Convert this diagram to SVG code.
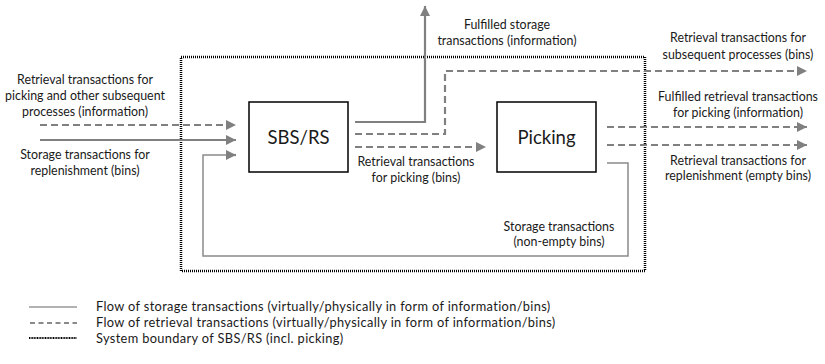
<svg xmlns="http://www.w3.org/2000/svg" width="825" height="364" viewBox="0 0 825 364">
  <style>
    text { font-family: Lato, "Open Sans", "Liberation Sans", sans-serif; fill: #1a1a1a; }
    .lbl { font-size: 12.4px; text-anchor: middle; }
    .leg { font-size: 12.8px; letter-spacing: 0.35px; }
    .node { fill: #fff; stroke: #000; stroke-width: 1.5; }
    .nodetxt { font-size: 18.5px; text-anchor: middle; }
    .solid { fill: none; stroke: #808080; stroke-width: 2.2; }
    .dash { fill: none; stroke: #808080; stroke-width: 2.2; stroke-dasharray: 7 4; }
    .loop { fill: none; stroke: #8a8a8a; stroke-width: 1.5; }
    .boundary { fill: none; stroke: #000; stroke-width: 2.5; stroke-dasharray: 1 1; }
  </style>
  <defs>
    <marker id="arr" viewBox="0 0 10 10" refX="10" refY="5" markerWidth="10" markerHeight="10" markerUnits="userSpaceOnUse" orient="auto">
      <path d="M0,0 L10,5 L0,10 Z" fill="#808080"/>
    </marker>
  </defs>

  <rect width="825" height="364" fill="#fff"/>

  <!-- system boundary -->
  <rect id="boundary" class="boundary" x="181" y="57" width="464" height="214"/>

  <!-- connectors -->
  <g id="connectors">
    <!-- inputs to SBS/RS -->
    <path class="dash" d="M40,125 H236" marker-end="url(#arr)"/>
    <path class="solid" d="M40,140 H236" marker-end="url(#arr)"/>
    <!-- storage loop from picking back to SBS/RS -->
    <path class="loop" d="M607,163 H628 V256 H203 V155 H228"/>
    <path class="solid" d="M226,155 H236" marker-end="url(#arr)"/>
    <!-- fulfilled storage transactions going up -->
    <path class="solid" d="M355,122 H425 V6" marker-end="url(#arr)"/>
    <!-- retrieval for subsequent processes -->
    <path class="dash" d="M355,134 H445 V71 H807" marker-end="url(#arr)"/>
    <!-- retrieval for picking -->
    <path class="dash" d="M355,147 H486" marker-end="url(#arr)"/>
    <!-- picking outputs -->
    <path class="dash" d="M607,127 H807" marker-end="url(#arr)"/>
    <path class="dash" d="M607,145 H807" marker-end="url(#arr)"/>
  </g>

  <!-- nodes -->
  <g id="sbsrs">
    <rect class="node" x="249" y="102" width="99" height="70"/>
    <text class="nodetxt" x="298.5" y="144">SBS/RS</text>
  </g>
  <g id="picking">
    <rect class="node" x="497" y="102" width="99" height="70"/>
    <text class="nodetxt" x="546.5" y="144">Picking</text>
  </g>

  <!-- flow labels -->
  <g id="labels">
    <text class="lbl" x="85" y="84">Retrieval transactions for</text>
    <text class="lbl" x="85" y="100">picking and other subsequent</text>
    <text class="lbl" x="85" y="116">processes (information)</text>

    <text class="lbl" x="85" y="159">Storage transactions for</text>
    <text class="lbl" x="85" y="175">replenishment (bins)</text>

    <text class="lbl" x="507" y="29">Fulfilled storage</text>
    <text class="lbl" x="507" y="45">transactions (information)</text>

    <text class="lbl" x="738" y="42">Retrieval transactions for</text>
    <text class="lbl" x="738" y="59">subsequent processes (bins)</text>

    <text class="lbl" x="738" y="101">Fulfilled retrieval transactions</text>
    <text class="lbl" x="738" y="117">for picking (information)</text>

    <text class="lbl" x="738" y="165">Retrieval transactions for</text>
    <text class="lbl" x="738" y="180">replenishment (empty bins)</text>

    <text class="lbl" x="416" y="166">Retrieval transactions</text>
    <text class="lbl" x="416" y="182">for picking (bins)</text>

    <text class="lbl" x="559" y="231">Storage transactions</text>
    <text class="lbl" x="559" y="246">(non-empty bins)</text>
  </g>

  <!-- legend -->
  <g id="legend">
    <line x1="29" y1="307" x2="77" y2="307" stroke="#999" stroke-width="1.3"/>
    <line x1="30" y1="323" x2="77" y2="323" stroke="#8a8a8a" stroke-width="2" stroke-dasharray="5 3.5"/>
    <line x1="29" y1="338" x2="77" y2="338" stroke="#000" stroke-width="2" stroke-dasharray="1 0.6"/>
    <text class="leg" x="96" y="311">Flow of storage transactions (virtually/physically in form of information/bins)</text>
    <text class="leg" x="96" y="327">Flow of retrieval transactions (virtually/physically in form of information/bins)</text>
    <text class="leg" x="96" y="343">System boundary of SBS/RS (incl. picking)</text>
  </g>
</svg>
